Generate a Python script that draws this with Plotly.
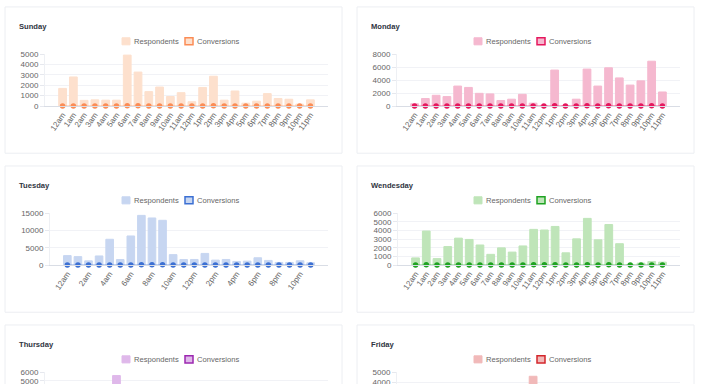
import plotly.graph_objects as go

# ---------------- data ----------------
hours = ["12am", "1am", "2am", "3am", "4am", "5am", "6am", "7am", "8am", "9am", "10am", "11am",
         "12pm", "1pm", "2pm", "3pm", "4pm", "5pm", "6pm", "7pm", "8pm", "9pm", "10pm", "11pm"]

days = ["Sunday", "Monday", "Tuesday", "Wendesday", "Thursday", "Friday"]

sunday_respondents = [1700, 2800, 550, 600, 570, 570, 4900, 3270, 1390, 1830, 920, 1290,
                      420, 1790, 2870, 570, 1450, 280, 470, 1200, 730, 660, 190, 600]
monday_respondents = [360, 1160, 1660, 1460, 3080, 2870, 1960, 1870, 860, 1060, 1810, 450,
                      40, 5540, 30, 1060, 5690, 3080, 5890, 4330, 3230, 3880, 6900, 2170]
tuesday_respondents = [2740, 2450, 1230, 2640, 7450, 1600, 8400, 14340, 13590, 12920, 3020, 1600,
                       1630, 3370, 1440, 1630, 1060, 1150, 2120, 1350, 770, 770, 1250, 670]
wednesday_respondents = [830, 3930, 750, 2140, 3110, 2960, 2320, 1240, 1990, 1500, 2210, 4120,
                         4050, 4460, 1420, 3030, 5390, 2920, 4680, 2470, 20, 230, 410, 340]
thursday_respondents = [1200, 2100, 800, 1500, 2600, 5600, 3100, 2400, 1900, 2800, 3300, 2000,
                        1700, 2500, 3600, 1400, 2200, 1800, 2900, 1600, 900, 700, 1100, 500]
friday_respondents = [900, 1500, 600, 1100, 1800, 2300, 1400, 2600, 1900, 3100, 2200, 4600,
                      3400, 2800, 1700, 2400, 3000, 1600, 2100, 1300, 800, 1000, 600, 700]

sunday_conversions = [12, 20, 4, 5, 4, 6, 35, 22, 10, 14, 7, 9, 3, 12, 21, 4, 10, 2, 3, 9, 5, 5, 1, 4]
monday_conversions = [3, 9, 12, 10, 22, 20, 14, 13, 6, 8, 13, 3, 0, 40, 0, 8, 41, 22, 42, 31, 23, 28, 50, 16]
tuesday_conversions = [20, 18, 9, 19, 54, 12, 61, 104, 98, 93, 22, 12, 12, 24, 10, 12, 8, 8, 15, 10, 6, 6, 9, 5]
wednesday_conversions = [6, 28, 5, 15, 22, 21, 17, 9, 14, 11, 16, 30, 29, 32, 10, 22, 39, 21, 34, 18, 0, 2, 3, 2]
thursday_conversions = [9, 15, 6, 11, 19, 40, 22, 17, 14, 20, 24, 14, 12, 18, 26, 10, 16, 13, 21, 12, 6, 5, 8, 4]
friday_conversions = [6, 11, 4, 8, 13, 17, 10, 19, 14, 22, 16, 33, 25, 20, 12, 17, 22, 12, 15, 9, 6, 7, 4, 5]

respondents = [sunday_respondents, monday_respondents, tuesday_respondents,
               wednesday_respondents, thursday_respondents, friday_respondents]
conversions = [sunday_conversions, monday_conversions, tuesday_conversions,
               wednesday_conversions, thursday_conversions, friday_conversions]

y_max = [5000, 8000, 15000, 6000, 6000, 5000]
y_dtick = [1000, 2000, 5000, 1000, 1000, 1000]

bar_colors = ["#fde0cd", "#f5b8cf", "#c7d6f1", "#bfe5b9", "#dfb8ea", "#f1b9b9"]
point_colors = ["#fb8c55", "#e5175d", "#3c70d3", "#1fa322", "#9c27b0", "#d3262b"]
line_colors = ["rgba(251,140,85,0.4)", "rgba(229,23,93,0.4)", "rgba(60,112,211,0.4)",
               "rgba(31,163,34,0.4)", "rgba(156,39,176,0.4)", "rgba(211,38,43,0.4)"]

# ---------------- layout helpers ----------------
W, H = 710, 490
FONT = "Helvetica Neue, Helvetica, Arial, sans-serif"


def px(x):
    return x / W


def py(y):
    return 1 - y / H


card_left = [5, 357]
card_top = [3, 165, 327]
card_w, card_h = 337, 149
plot_left_off = [40, 40, 45, 41, 40, 40]

fig = go.Figure()
shapes = []
annotations = []

for i, day in enumerate(days):
    col, row = i % 2, i // 2
    cx, cy = card_left[col], card_top[row]
    n = i + 1
    xa = "x" if n == 1 else f"x{n}"
    ya = "y" if n == 1 else f"y{n}"

    # card
    shapes.append(dict(type="rect", xref="paper", yref="paper", layer="below",
                       x0=px(cx), x1=px(cx + card_w), y0=py(cy + card_h), y1=py(cy),
                       line=dict(color="#eceef2", width=1), fillcolor="white"))
    # title
    annotations.append(dict(text=f"<b>{day}</b>", xref="paper", yref="paper",
                            x=px(cx + 12), y=py(cy + 20), xanchor="left", yanchor="middle",
                            showarrow=False, font=dict(family=FONT, size=7.6, color="#2f3542")))
    # legend
    ly = cy + 35
    bx = cx + 117
    shapes.append(dict(type="rect", xref="paper", yref="paper",
                       x0=px(bx), x1=px(bx + 8), y0=py(ly + 3.6), y1=py(ly - 3.6),
                       line=dict(color=bar_colors[i], width=1), fillcolor=bar_colors[i]))
    annotations.append(dict(text="Respondents", xref="paper", yref="paper",
                            x=px(bx + 10), y=py(ly), xanchor="left", yanchor="middle",
                            showarrow=False, font=dict(family=FONT, size=7.6, color="#666")))
    bx2 = cx + 180
    shapes.append(dict(type="rect", xref="paper", yref="paper",
                       x0=px(bx2), x1=px(bx2 + 8), y0=py(ly + 3.6), y1=py(ly - 3.6),
                       line=dict(color=point_colors[i], width=1.5), fillcolor=bar_colors[i]))
    annotations.append(dict(text="Conversions", xref="paper", yref="paper",
                            x=px(bx2 + 10), y=py(ly), xanchor="left", yanchor="middle",
                            showarrow=False, font=dict(family=FONT, size=7.6, color="#666")))

    # traces
    fig.add_trace(go.Bar(x=hours, y=respondents[i], name="Respondents",
                         marker=dict(color=bar_colors[i], line=dict(color=bar_colors[i], width=1)),
                         xaxis=xa, yaxis=ya, showlegend=False))
    fig.add_trace(go.Scatter(x=hours, y=conversions[i], name="Conversions", mode="lines+markers",
                             line=dict(color=line_colors[i], width=1.5),
                             marker=dict(color=point_colors[i], size=5.5),
                             xaxis=xa, yaxis=ya, showlegend=False, cliponaxis=False))

    x0 = cx + plot_left_off[i]
    x1 = cx + 323
    y0 = cy + 48
    y1 = cy + 101
    xkey = "xaxis" if n == 1 else f"xaxis{n}"
    ykey = "yaxis" if n == 1 else f"yaxis{n}"
    tickvals = hours[::2] if day == "Tuesday" else hours
    partial = row == 2  # bottom row is cut off by the window
    ytickvals = list(range(0, y_max[i] + 1, y_dtick[i]))
    if partial:
        ytickvals = ytickvals[-2:]
    fig.update_layout(**{
        xkey: dict(domain=[px(x0), px(x1)], anchor=ya, type="category",
                   tickmode="array", tickvals=tickvals, ticktext=tickvals,
                   showticklabels=not partial,
                   tickangle=-55, tickfont=dict(family=FONT, size=8, color="#666"),
                   showgrid=False, showline=True, linecolor="#d9dde5", linewidth=1,
                   ticks="", fixedrange=True),
        ykey: dict(domain=[py(y1), py(y0)], anchor=xa, range=[0, y_max[i]],
                   tickmode="array", tickvals=ytickvals, tickformat="d",
                   tickfont=dict(family=FONT, size=8, color="#666"),
                   gridcolor="#f1f2f6", gridwidth=1, zeroline=False,
                   showline=True, linecolor="#eef0f4", linewidth=1,
                   ticks="outside", ticklen=4, tickcolor="#e6e8ee",
                   fixedrange=True),
    })

fig.update_layout(width=W, height=H, margin=dict(l=0, r=0, t=0, b=0),
                  paper_bgcolor="white", plot_bgcolor="rgba(0,0,0,0)",
                  bargap=0.28, shapes=shapes, annotations=annotations,
                  font=dict(family=FONT))

fig.write_html("out.html", config={"displayModeBar": False},
               post_script="document.body.style.margin='0';document.body.style.overflow='hidden';")
